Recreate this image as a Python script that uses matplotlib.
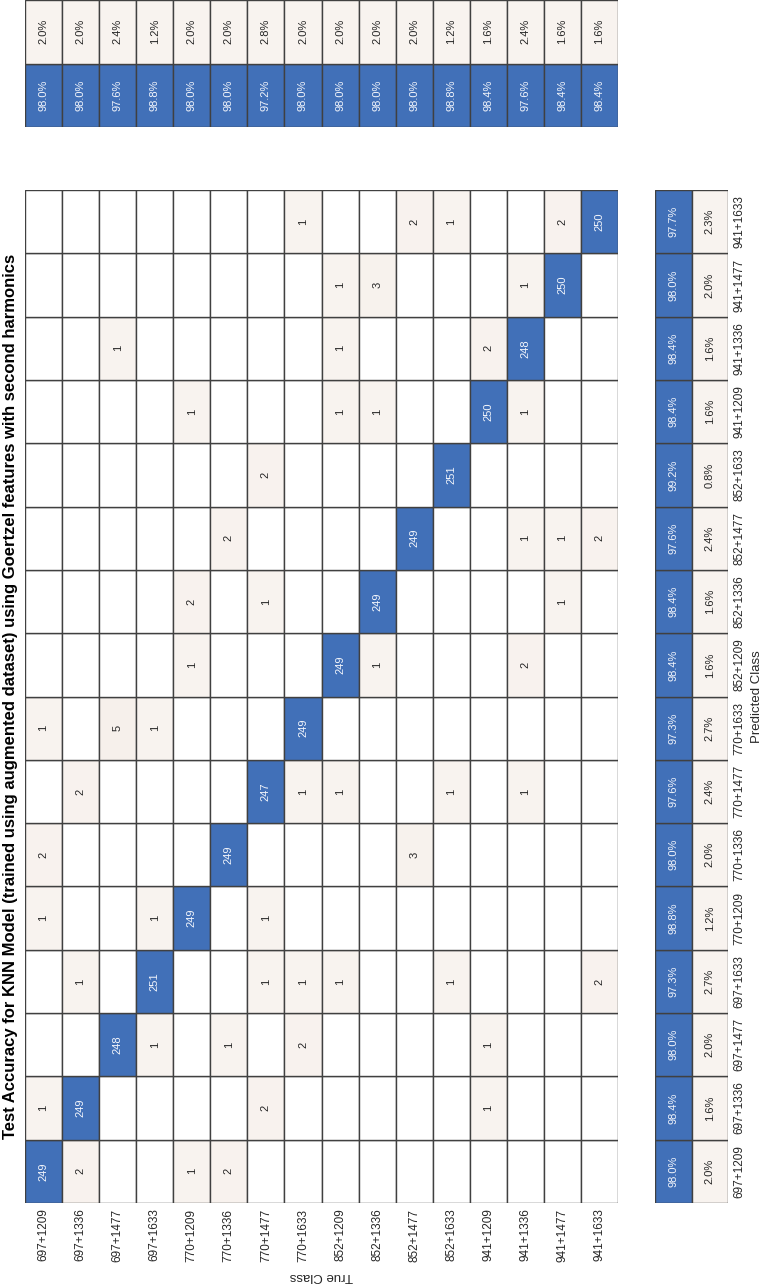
import numpy as np
import matplotlib
matplotlib.use('Agg')
import matplotlib.pyplot as plt
from matplotlib.patches import Rectangle

plt.rcParams['font.family'] = ['Liberation Sans', 'DejaVu Sans']

# DATA
classes = ['697+1209', '697+1336', '697+1477', '697+1633',
           '770+1209', '770+1336', '770+1477', '770+1633',
           '852+1209', '852+1336', '852+1477', '852+1633',
           '941+1209', '941+1336', '941+1477', '941+1633']

# rows = true class, columns = predicted class
conf = [
    [249, 1, 0, 0, 1, 2, 0, 1, 0, 0, 0, 0, 0, 0, 0, 0],
    [2, 249, 0, 1, 0, 0, 2, 0, 0, 0, 0, 0, 0, 0, 0, 0],
    [0, 0, 248, 0, 0, 0, 0, 5, 0, 0, 0, 0, 0, 1, 0, 0],
    [0, 0, 1, 251, 1, 0, 0, 1, 0, 0, 0, 0, 0, 0, 0, 0],
    [1, 0, 0, 0, 249, 0, 0, 0, 1, 2, 0, 0, 1, 0, 0, 0],
    [2, 0, 1, 0, 0, 249, 0, 0, 0, 0, 2, 0, 0, 0, 0, 0],
    [0, 2, 0, 1, 1, 0, 247, 0, 0, 1, 0, 2, 0, 0, 0, 0],
    [0, 0, 2, 1, 0, 0, 1, 249, 0, 0, 0, 0, 0, 0, 0, 1],
    [0, 0, 0, 1, 0, 0, 1, 0, 249, 0, 0, 0, 1, 1, 1, 0],
    [0, 0, 0, 0, 0, 0, 0, 0, 1, 249, 0, 0, 1, 0, 3, 0],
    [0, 0, 0, 0, 0, 3, 0, 0, 0, 0, 249, 0, 0, 0, 0, 2],
    [0, 0, 0, 1, 0, 0, 1, 0, 0, 0, 0, 251, 0, 0, 0, 1],
    [0, 1, 1, 0, 0, 0, 0, 0, 0, 0, 0, 0, 250, 2, 0, 0],
    [0, 0, 0, 0, 0, 0, 1, 0, 2, 0, 1, 0, 1, 248, 1, 0],
    [0, 0, 0, 0, 0, 0, 0, 0, 0, 1, 1, 0, 0, 0, 250, 2],
    [0, 0, 0, 2, 0, 0, 0, 0, 0, 0, 2, 0, 0, 0, 0, 250],
]

title = ('Test Accuracy for KNN Model (trained using augmented dataset) '
         'using Goertzel features with second harmonics')

# STYLE
BLUE = '#4170b8'
BEIGE = '#f8f3ef'
EDGE = '#404040'
DARK = '#262626'

cm = np.array(conf)
n = len(classes)
diag = np.diag(cm)
recall = 100.0 * diag / cm.sum(axis=1)      # per true class
precision = 100.0 * diag / cm.sum(axis=0)   # per predicted class

W, H = 770, 1286
fig = plt.figure(figsize=(W / 100, H / 100), dpi=100)


def box(x0, y0, x1, y1):
    # pixel box (top-left origin) -> figure fraction
    return [x0 / W, 1 - y1 / H, (x1 - x0) / W, (y1 - y0) / H]


def cell(ax, x, y, color, text, tcolor):
    ax.add_patch(Rectangle((x, y), 1, 1, facecolor=color,
                           edgecolor=EDGE, linewidth=1.0))
    if text:
        ax.text(x + 0.5, y + 0.5, text, rotation=90, ha='center',
                va='center', fontsize=8, color=tcolor)


def offdiag_color(v):
    # light beige, a touch darker for bigger counts
    base = np.array([248, 243, 239]) / 255
    tone = np.array([226, 208, 195]) / 255
    a = min(0.02 * (v - 1), 0.12)
    return tuple(base * (1 - a) + tone * a)


# main matrix: x = true class, y = predicted class
ax = fig.add_axes(box(25, 190, 618, 1203))
for t in range(n):
    for p in range(n):
        v = cm[t, p]
        if v == 0:
            cell(ax, t, p, 'white', '', DARK)
        elif t == p:
            cell(ax, t, p, BLUE, str(v), '#f2f5fb')
        else:
            cell(ax, t, p, offdiag_color(v), str(v), DARK)
ax.set_xlim(0, n)
ax.set_ylim(0, n)
ax.set_xticks(np.arange(n) + 0.5)
ax.set_xticklabels(classes, rotation=90, fontsize=8.5, color=DARK)
ax.set_yticks([])
ax.tick_params(axis='x', length=0, pad=4)
ax.set_xlabel('True Class', rotation=180, fontsize=9.5, color=DARK, labelpad=6)
for s in ax.spines.values():
    s.set_visible(False)

# row summary (per true class)
ax_top = fig.add_axes(box(25, 0, 618, 127))
for t in range(n):
    cell(ax_top, t, 0, BLUE, f'{recall[t]:.1f}%', '#f2f5fb')
    cell(ax_top, t, 1, BEIGE, f'{100 - recall[t]:.1f}%', DARK)
ax_top.set_xlim(0, n)
ax_top.set_ylim(0, 2)
ax_top.axis('off')

# column summary (per predicted class)
ax_col = fig.add_axes(box(655, 190, 728, 1203))
for p in range(n):
    cell(ax_col, 0, p, BLUE, f'{precision[p]:.1f}%', '#f2f5fb')
    cell(ax_col, 1, p, BEIGE, f'{100 - precision[p]:.1f}%', DARK)
ax_col.set_xlim(0, 2)
ax_col.set_ylim(0, n)
ax_col.set_xticks([])
ax_col.yaxis.tick_right()
ax_col.yaxis.set_label_position('right')
ax_col.set_yticks(np.arange(n) + 0.5)
ax_col.set_yticklabels(classes, rotation=90, va='center', fontsize=8.5, color=DARK)
ax_col.tick_params(axis='y', length=0, pad=4)
ax_col.set_ylabel('Predicted Class', rotation=90, fontsize=9.5, color=DARK, labelpad=4)
for s in ax_col.spines.values():
    s.set_visible(False)

fig.text(11 / W, 1 - 696 / H, title, rotation=90, ha='center', va='center',
         fontsize=12, fontweight='bold', color='black')

fig.savefig('out.png', dpi=100)
